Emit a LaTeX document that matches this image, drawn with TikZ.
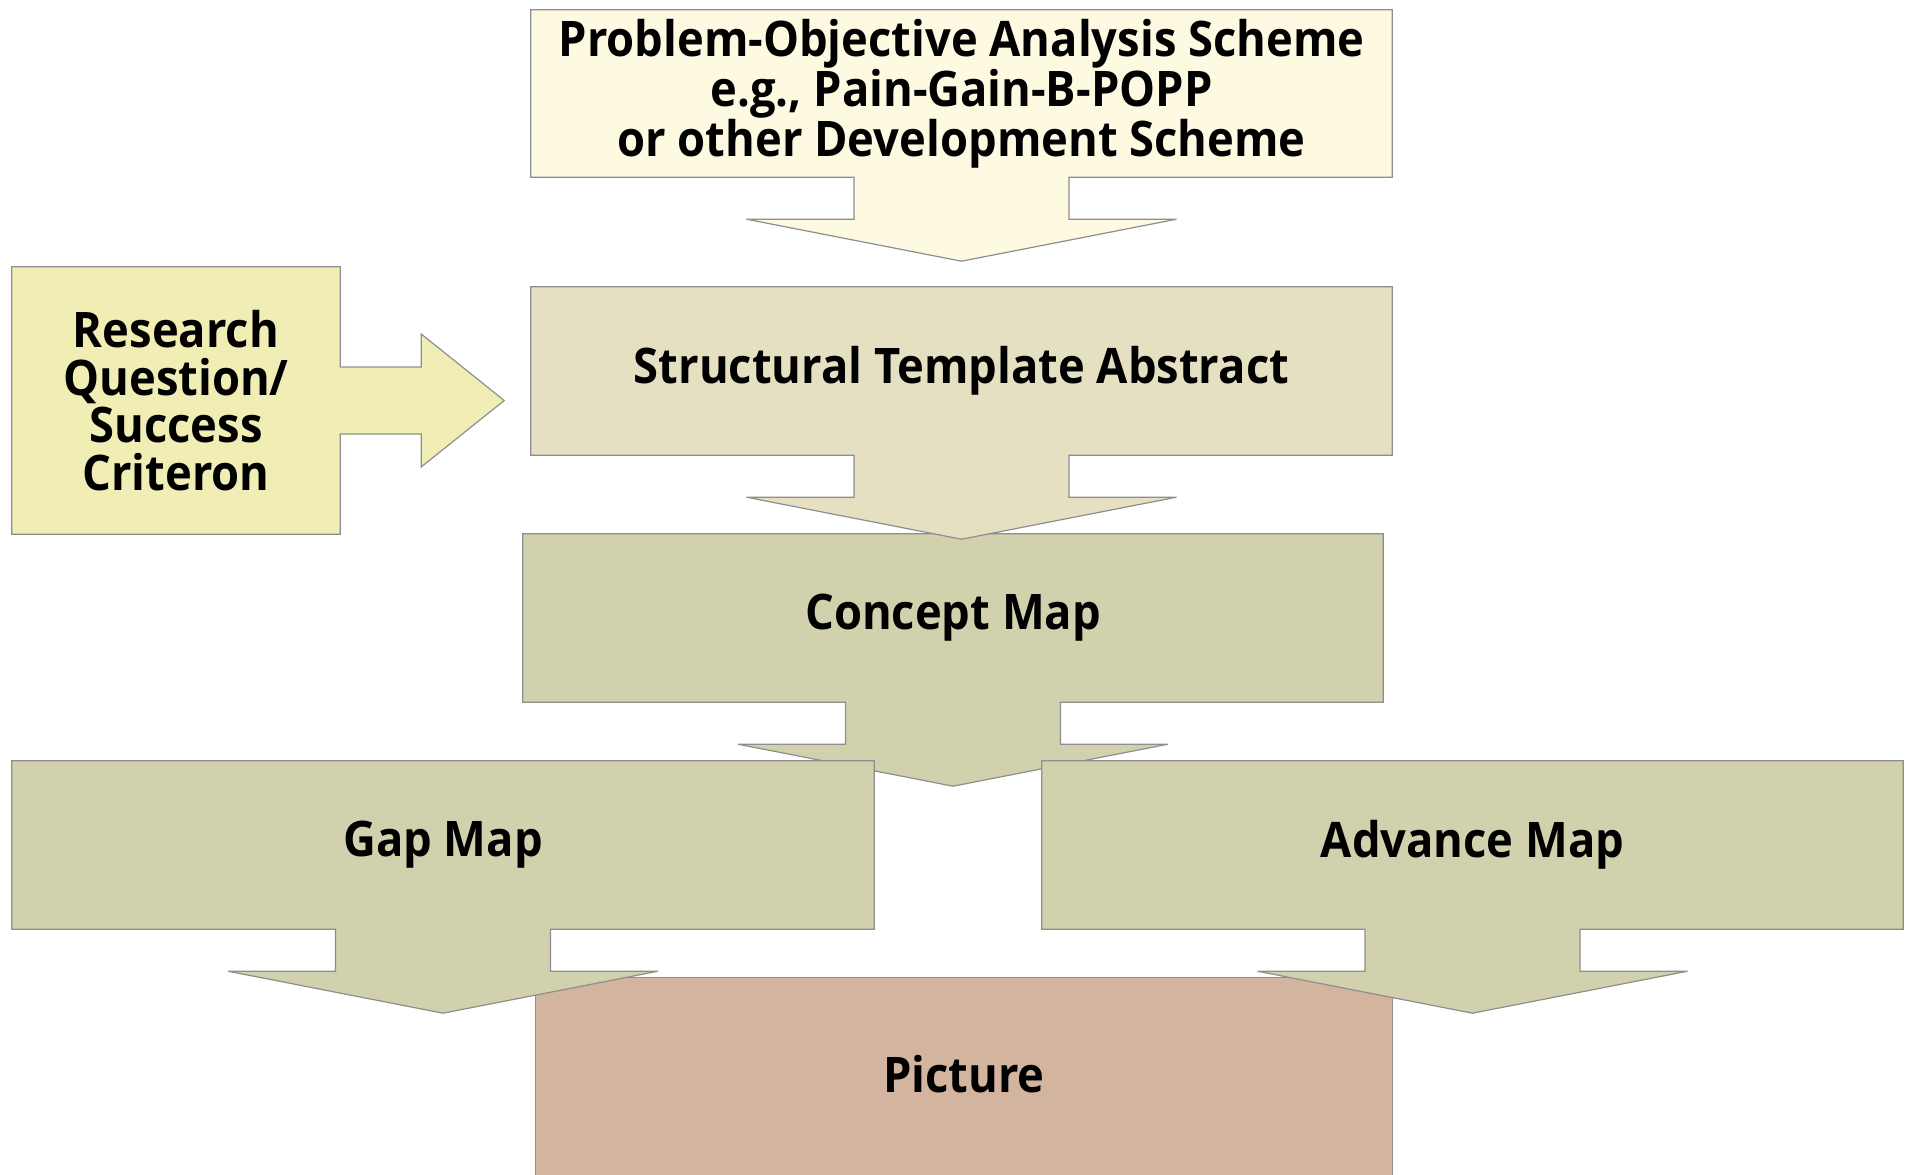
\documentclass[tikz,border=0pt]{standalone}
\usepackage{fontspec}
\newfontfamily\boxfont{Open Sans}[FakeStretch=0.925]
\usetikzlibrary{calc}
\definecolor{linegrey}{HTML}{8E8E8E}
\definecolor{cream}{HTML}{FEFAE2}
\definecolor{paleyellow}{HTML}{F0EEB4}
\definecolor{beige}{HTML}{E6E0C3}
\definecolor{olive}{HTML}{D1D1AD}
\definecolor{tan}{HTML}{D2B49F}
\pgfdeclarelayer{bg}
\pgfsetlayers{bg,main}
\newcommand\boxtext{\boxfont\bfseries\fontsize{49}{46}\selectfont}
\newcommand\downcall[2]{%
  \filldraw[fill=#2, outl] (#1.north west) -- (#1.north east) -- (#1.south east)
   -- ($(#1.south)+(107.5,0)$) -- ($(#1.south)+(107.5,42)$) -- ($(#1.south)+(215,42)$)
   -- ($(#1.south)+(0,84)$) -- ($(#1.south)+(-215,42)$) -- ($(#1.south)+(-107.5,42)$)
   -- ($(#1.south)+(-107.5,0)$) -- (#1.south west) -- cycle;}
\begin{document}
\begin{tikzpicture}[x=1pt,y=-1pt,
  box/.style={inner sep=0pt, align=center, font=\boxtext, text=black},
  outl/.style={draw=linegrey, line width=1.2pt, line join=miter}]
\clip (0,0) rectangle (1909,1175);
% nodes (text)
\node[box, minimum width=861, minimum height=167] (top) at (961.5,93.5)
  {Problem-Objective Analysis Scheme\\e.g., Pain-Gain-B-POPP\\or other Development Scheme};
\node[box, minimum width=328, minimum height=267, font=\boxfont\bfseries\fontsize{49}{47.5}\selectfont] (research) at (176,400.5)
  {Research\\Question/\\Success\\Criteron};
\node[box, minimum width=861, minimum height=168] (struct) at (961.5,371) {Structural Template Abstract};
\node[box, minimum width=860, minimum height=168] (concept) at (953,618) {Concept Map};
\node[box, minimum width=862, minimum height=168] (gap) at (443,845) {Gap Map};
\node[box, minimum width=861, minimum height=168] (advance) at (1472.5,845) {Advance Map};
\node[box, minimum width=856, minimum height=192] (pic) at (964,1074) {Picture};
% shapes
\begin{pgfonlayer}{bg}
\fill[white] (0,0) rectangle (1909,1175);
\filldraw[fill=tan, outl] (pic.north west) rectangle ($(pic.south east)+(0,30)$);
\downcall{concept}{olive}
\downcall{struct}{beige}
\downcall{top}{cream}
\downcall{gap}{olive}
\downcall{advance}{olive}
\filldraw[fill=paleyellow, outl] (research.north west) -- (research.north east)
  -- ($(research.east)+(0,-33.5)$) -- ($(research.east)+(81,-33.5)$)
  -- ($(research.east)+(81,-66.5)$) -- ($(research.east)+(164,0)$)
  -- ($(research.east)+(81,66.5)$) -- ($(research.east)+(81,33.5)$)
  -- ($(research.east)+(0,33.5)$) -- (research.south east) -- (research.south west) -- cycle;
\end{pgfonlayer}
\end{tikzpicture}
\end{document}
